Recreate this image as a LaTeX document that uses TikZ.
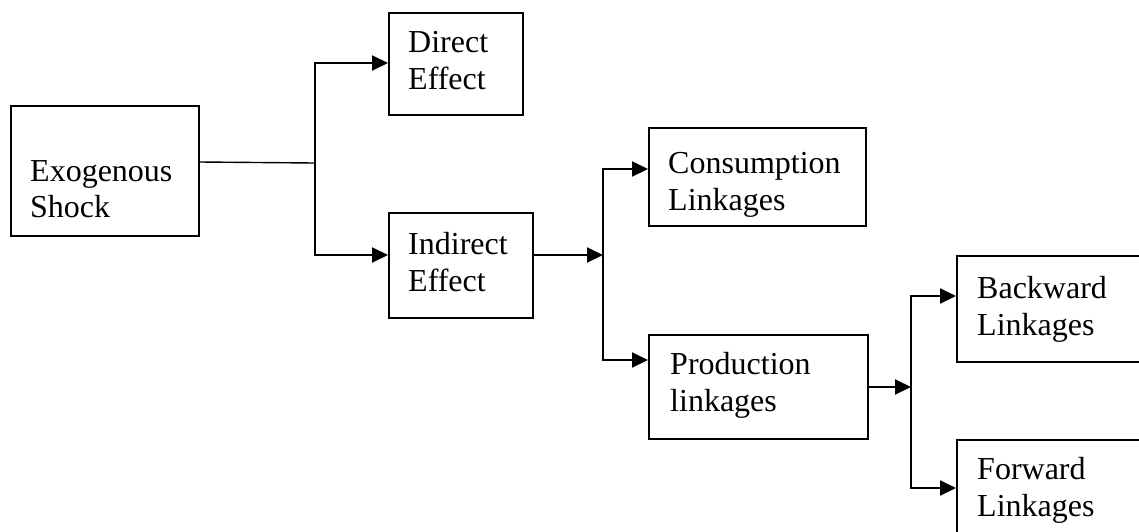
\documentclass[tikz,border=0pt]{standalone}
\usepackage{fontspec}
\setmainfont{Liberation Serif}
\usetikzlibrary{arrows.meta,calc}

\tikzset{
  box/.style={draw, line width=2pt, inner sep=0pt, anchor=north west},
  txt/.style={anchor=north west, inner sep=0pt, align=left,
              font=\fontsize{32}{36.8}\selectfont},
  link/.style={line width=2pt, line join=miter},
  arr/.style={link, -{Triangle[length=16pt,width=15pt]}},
}

\begin{document}
\begin{tikzpicture}[x=1pt,y=-1pt]
  \fill[white] (0,0) rectangle (1139,531);
  \useasboundingbox (0,0) rectangle (1139,531);

  % boxes
  \node[box, minimum width=188pt, minimum height=130pt] (exo)   at (10,105)  {};
  \node[box, minimum width=134pt, minimum height=102pt] (dir)   at (388,12)  {};
  \node[box, minimum width=144pt, minimum height=105pt] (ind)   at (388,212) {};
  \node[box, minimum width=217pt, minimum height=98pt]  (cons)  at (648,127) {};
  \node[box, minimum width=219pt, minimum height=104pt] (prod)  at (648,334) {};
  \node[box, minimum width=260pt, minimum height=106pt] (back)  at (956,255) {};
  \node[box, minimum width=260pt, minimum height=160pt] (fwd)   at (956,439) {};

  % labels
  \node[txt] (exot)  at (30,160)  {Exogenous\\Shock};
  \node[txt] (dirt)  at (408,31)  {Direct\\Effect};
  \node[txt] (indt)  at (408,232) {Indirect\\Effect};
  \node[txt] (const) at (668,152) {Consumption\\Linkages};
  \node[txt] (prodt) at (670,352) {Production\\linkages};
  \node[txt] (backt) at (977,276) {Backward\\Linkages};
  \node[txt] (fwdt)  at (977,457) {Forward\\Linkages};

  % branch points
  \coordinate (j1)  at (315,163);
  \coordinate (j1t) at (315,63);
  \coordinate (j1b) at (315,255);
  \coordinate (j2)  at (603,255);
  \coordinate (j2t) at (603,169);
  \coordinate (j2b) at (603,360);
  \coordinate (j3)  at (911,387);
  \coordinate (j3t) at (911,296);
  \coordinate (j3b) at (911,488);

  % shock splits into direct and indirect effects
  \draw[line width=1.4pt] ($(exo.east)+(0,-9)$) -- (j1);
  \draw[arr] (j1) -- (j1t) -- (dir.west |- j1t);
  \draw[arr] (j1) -- (j1b) -- (ind.west |- j1b);

  % indirect effect splits into linkages
  \draw[arr] (ind.east |- j2) -- (j2);
  \draw[arr] (j2) -- (j2t) -- (cons.west |- j2t);
  \draw[arr] (j2) -- (j2b) -- (prod.west |- j2b);

  % production linkages split
  \draw[arr] (prod.east |- j3) -- (j3);
  \draw[arr] (j3) -- (j3t) -- (back.west |- j3t);
  \draw[arr] (j3) -- (j3b) -- (fwd.west |- j3b);
\end{tikzpicture}
\end{document}
